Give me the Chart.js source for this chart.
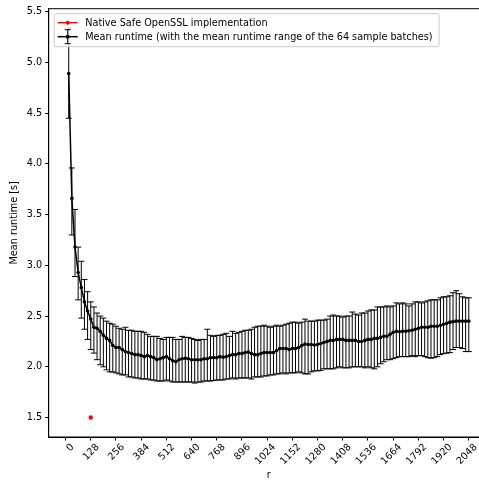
<!DOCTYPE html>
<html>
<head>
<meta charset="utf-8">
<script src="https://cdn.jsdelivr.net/npm/chart.js@4.4.0/dist/chart.umd.min.js"></script>
<style>
  html, body { margin: 0; padding: 0; background: #fff; overflow: hidden; }
  canvas { display: block; }
</style>
</head>
<body>
<!-- the plot box runs past the right edge of the window, so the canvas is a bit wider -->
<canvas id="runtimeChart" width="489" height="481"></canvas>
<script>
// r values of the sample batches
const rValues = [
  16, 32, 48, 64, 80, 96, 112, 128, 144, 160,
  176, 192, 208, 224, 240, 256, 272, 288, 304, 320,
  336, 352, 368, 384, 400, 416, 432, 448, 464, 480,
  496, 512, 528, 544, 560, 576, 592, 608, 624, 640,
  656, 672, 688, 704, 720, 736, 752, 768, 784, 800,
  816, 832, 848, 864, 880, 896, 912, 928, 944, 960,
  976, 992, 1008, 1024, 1040, 1056, 1072, 1088, 1104, 1120,
  1136, 1152, 1168, 1184, 1200, 1216, 1232, 1248, 1264, 1280,
  1296, 1312, 1328, 1344, 1360, 1376, 1392, 1408, 1424, 1440,
  1456, 1472, 1488, 1504, 1520, 1536, 1552, 1568, 1584, 1600,
  1616, 1632, 1648, 1664, 1680, 1696, 1712, 1728, 1744, 1760,
  1776, 1792, 1808, 1824, 1840, 1856, 1872, 1888, 1904, 1920,
  1936, 1952, 1968, 1984, 2000, 2016, 2032, 2048
];

// mean runtime [s] per r
const meanRuntime = [
  4.89, 3.66, 3.18, 2.93, 2.78, 2.64, 2.55, 2.47, 2.39, 2.38,
  2.35, 2.31, 2.28, 2.26, 2.21, 2.19, 2.19, 2.17, 2.15, 2.14,
  2.13, 2.12, 2.12, 2.11, 2.10, 2.11, 2.10, 2.09, 2.07, 2.08,
  2.09, 2.10, 2.08, 2.06, 2.05, 2.07, 2.08, 2.085, 2.08, 2.07,
  2.07, 2.07, 2.07, 2.08, 2.08, 2.09, 2.09, 2.09, 2.10, 2.095,
  2.10, 2.11, 2.12, 2.12, 2.13, 2.13, 2.14, 2.145, 2.13, 2.12,
  2.12, 2.13, 2.14, 2.14, 2.14, 2.14, 2.16, 2.18, 2.18, 2.18,
  2.17, 2.18, 2.18, 2.19, 2.21, 2.225, 2.22, 2.22, 2.215, 2.22,
  2.23, 2.24, 2.25, 2.26, 2.26, 2.27, 2.27, 2.27, 2.26, 2.26,
  2.26, 2.26, 2.25, 2.25, 2.26, 2.27, 2.27, 2.28, 2.28, 2.29,
  2.30, 2.30, 2.32, 2.34, 2.35, 2.345, 2.35, 2.35, 2.355, 2.36,
  2.37, 2.38, 2.39, 2.39, 2.39, 2.40, 2.40, 2.40, 2.41, 2.42,
  2.43, 2.44, 2.445, 2.45, 2.45, 2.45, 2.45, 2.45
];

// fastest / slowest batch mean per r
const rangeMin = [
  4.45, 3.30, 2.89, 2.66, 2.48, 2.37, 2.27, 2.17, 2.135, 2.07,
  2.02, 2.00, 1.97, 1.95, 1.95, 1.94, 1.93, 1.92, 1.92, 1.90,
  1.90, 1.89, 1.89, 1.88, 1.88, 1.88, 1.87, 1.87, 1.86, 1.86,
  1.86, 1.87, 1.86, 1.85, 1.85, 1.85, 1.85, 1.85, 1.85, 1.85,
  1.84, 1.85, 1.85, 1.86, 1.86, 1.86, 1.865, 1.87, 1.87, 1.87,
  1.88, 1.88, 1.89, 1.88, 1.89, 1.89, 1.89, 1.89, 1.88, 1.90,
  1.90, 1.90, 1.91, 1.91, 1.92, 1.92, 1.93, 1.93, 1.94, 1.93,
  1.94, 1.94, 1.94, 1.95, 1.94, 1.93, 1.93, 1.95, 1.96, 1.96,
  1.965, 1.98, 1.98, 1.98, 1.98, 1.99, 2.00, 1.99, 1.99, 1.99,
  2.00, 2.00, 2.00, 2.00, 1.99, 2.00, 1.99, 1.98, 2.00, 2.03,
  2.05, 2.07, 2.07, 2.08, 2.09, 2.10, 2.10, 2.10, 2.10, 2.11,
  2.10, 2.11, 2.11, 2.10, 2.09, 2.085, 2.09, 2.10, 2.12, 2.13,
  2.135, 2.14, 2.17, 2.19, 2.19, 2.18, 2.15, 2.15
];
const rangeMax = [
  5.34, 3.96, 3.55, 3.18, 3.04, 2.86, 2.74, 2.64, 2.59, 2.53,
  2.50, 2.48, 2.45, 2.43, 2.42, 2.40, 2.38, 2.37, 2.39, 2.36,
  2.36, 2.35, 2.35, 2.35, 2.34, 2.32, 2.30, 2.30, 2.30, 2.28,
  2.27, 2.29, 2.29, 2.29, 2.27, 2.27, 2.30, 2.29, 2.29, 2.28,
  2.27, 2.26, 2.27, 2.27, 2.37, 2.31, 2.30, 2.31, 2.31, 2.32,
  2.33, 2.30, 2.35, 2.33, 2.34, 2.35, 2.36, 2.36, 2.37, 2.39,
  2.40, 2.40, 2.41, 2.40, 2.39, 2.40, 2.41, 2.40, 2.41, 2.42,
  2.43, 2.44, 2.44, 2.43, 2.44, 2.47, 2.45, 2.45, 2.45, 2.46,
  2.46, 2.46, 2.47, 2.50, 2.51, 2.50, 2.50, 2.49, 2.50, 2.50,
  2.54, 2.52, 2.51, 2.53, 2.53, 2.55, 2.56, 2.56, 2.59, 2.59,
  2.59, 2.60, 2.59, 2.60, 2.63, 2.62, 2.63, 2.62, 2.60, 2.62,
  2.64, 2.64, 2.63, 2.64, 2.65, 2.66, 2.66, 2.66, 2.68, 2.69,
  2.69, 2.70, 2.73, 2.75, 2.72, 2.69, 2.68, 2.68
];

// native implementation reference point
const nativeR = [128];
const nativeRuntime = [1.5];

const xTicks = [0, 128, 256, 384, 512, 640, 768, 896, 1024, 1152, 1280, 1408, 1536, 1664, 1792, 1920, 2048];
const yTicks = [1.5, 2.0, 2.5, 3.0, 3.5, 4.0, 4.5, 5.0, 5.5];

const FONT = '"DejaVu Sans", sans-serif';
Chart.defaults.font.family = FONT;
Chart.defaults.font.size = 9.7;
Chart.defaults.color = '#000';

// vertical bars with caps for the batch range
const errorBars = {
  id: 'errorBars',
  beforeDatasetsDraw(chart) {
    const { ctx, scales: { x, y } } = chart;
    ctx.save();
    ctx.strokeStyle = '#000';
    ctx.lineWidth = 1;
    rValues.forEach((r, i) => {
      const px = x.getPixelForValue(r);
      const top = y.getPixelForValue(rangeMax[i]);
      const bot = y.getPixelForValue(rangeMin[i]);
      ctx.beginPath();
      ctx.moveTo(px, top); ctx.lineTo(px, bot);
      ctx.moveTo(px - 3, top); ctx.lineTo(px + 3, top);
      ctx.moveTo(px - 3, bot); ctx.lineTo(px + 3, bot);
      ctx.stroke();
    });
    ctx.restore();
  }
};

// frame + legend in the upper left corner
const frameAndLegend = {
  id: 'frameAndLegend',
  afterDraw(chart) {
    const { ctx, chartArea: a } = chart;
    ctx.save();
    ctx.strokeStyle = '#000';
    ctx.lineWidth = 1;
    ctx.strokeRect(a.left, a.top, a.right - a.left, a.bottom - a.top);

    ctx.font = '9.7px ' + FONT;
    const sets = chart.data.datasets;
    const textW = Math.max(...sets.map(d => ctx.measureText(d.label).width));
    const bx = a.left + 5, by = a.top + 4.5;
    const bw = 31.5 + textW + 6, bh = 33;
    ctx.beginPath();
    ctx.roundRect(bx + 0.5, by + 0.5, bw, bh, 2);
    ctx.fillStyle = 'rgba(255,255,255,0.8)';
    ctx.fill();
    ctx.strokeStyle = '#cccccc';
    ctx.stroke();

    const hx0 = bx + 4, hx1 = bx + 24, hc = (hx0 + hx1) / 2;
    sets.forEach((d, i) => {
      const ly = by + 9.5 + i * 14;
      ctx.strokeStyle = d.borderColor;
      ctx.fillStyle = d.borderColor;
      ctx.lineWidth = 1.5;
      ctx.beginPath();
      ctx.moveTo(hx0, ly); ctx.lineTo(hx1, ly);
      ctx.stroke();
      if (d.errorBars) {
        ctx.lineWidth = 1;
        ctx.beginPath();
        ctx.moveTo(hc, ly - 7); ctx.lineTo(hc, ly + 7);
        ctx.moveTo(hc - 3, ly - 7); ctx.lineTo(hc + 3, ly - 7);
        ctx.moveTo(hc - 3, ly + 7); ctx.lineTo(hc + 3, ly + 7);
        ctx.stroke();
      }
      ctx.beginPath();
      ctx.arc(hc, ly, 2, 0, Math.PI * 2);
      ctx.fill();
      ctx.fillStyle = '#000';
      ctx.textBaseline = 'middle';
      ctx.textAlign = 'left';
      ctx.fillText(d.label, bx + 31.5, ly + 0.5);
    });
    ctx.restore();
  }
};

new Chart(document.getElementById('runtimeChart'), {
  type: 'scatter',
  data: {
    datasets: [
      {
        label: 'Native Safe OpenSSL implementation',
        data: nativeR.map((r, i) => ({ x: r, y: nativeRuntime[i] })),
        borderColor: '#ff0000',
        backgroundColor: '#ff0000',
        pointRadius: 2.2,
        pointBorderWidth: 0,
        showLine: false
      },
      {
        label: 'Mean runtime (with the mean runtime range of the 64 sample batches)',
        data: rValues.map((r, i) => ({ x: r, y: meanRuntime[i] })),
        borderColor: '#000000',
        backgroundColor: '#000000',
        borderWidth: 1.5,
        pointRadius: 1.8,
        pointBorderWidth: 0,
        showLine: true,
        tension: 0,
        errorBars: true
      }
    ]
  },
  options: {
    responsive: false,
    animation: false,
    layout: { autoPadding: false, padding: { left: 0, top: 8.7, right: 0.2, bottom: 0 } },
    plugins: { legend: { display: false }, tooltip: { enabled: false } },
    scales: {
      x: {
        type: 'linear',
        min: -85.6,
        max: 2149.6,
        afterBuildTicks: s => { s.ticks = xTicks.map(v => ({ value: v })); },
        afterFit: s => { s.height = 44; s.paddingLeft = 0; s.paddingRight = 0; },
        ticks: {
          autoSkip: false,
          minRotation: 45,
          maxRotation: 45,
          padding: 1,
          labelOffset: 7,
          callback: v => String(v)
        },
        grid: { drawOnChartArea: false, drawTicks: true, tickLength: 3.5, color: '#000' },
        border: { display: true, color: '#000', width: 1 },
        title: { display: true, text: 'r', padding: 0 }
      },
      y: {
        type: 'linear',
        min: 1.308,
        max: 5.53,
        afterBuildTicks: s => { s.ticks = yTicks.map(v => ({ value: v })); },
        afterFit: s => { s.width = 48.7; s.paddingTop = 0; s.paddingBottom = 0; },
        ticks: { padding: 3, callback: v => v.toFixed(1) },
        grid: { drawOnChartArea: false, drawTicks: true, tickLength: 3.5, color: '#000' },
        border: { display: true, color: '#000', width: 1 },
        title: { display: true, text: 'Mean runtime [s]', padding: { top: 9, bottom: 0 } }
      }
    }
  },
  plugins: [errorBars, frameAndLegend]
});
</script>
</body>
</html>
